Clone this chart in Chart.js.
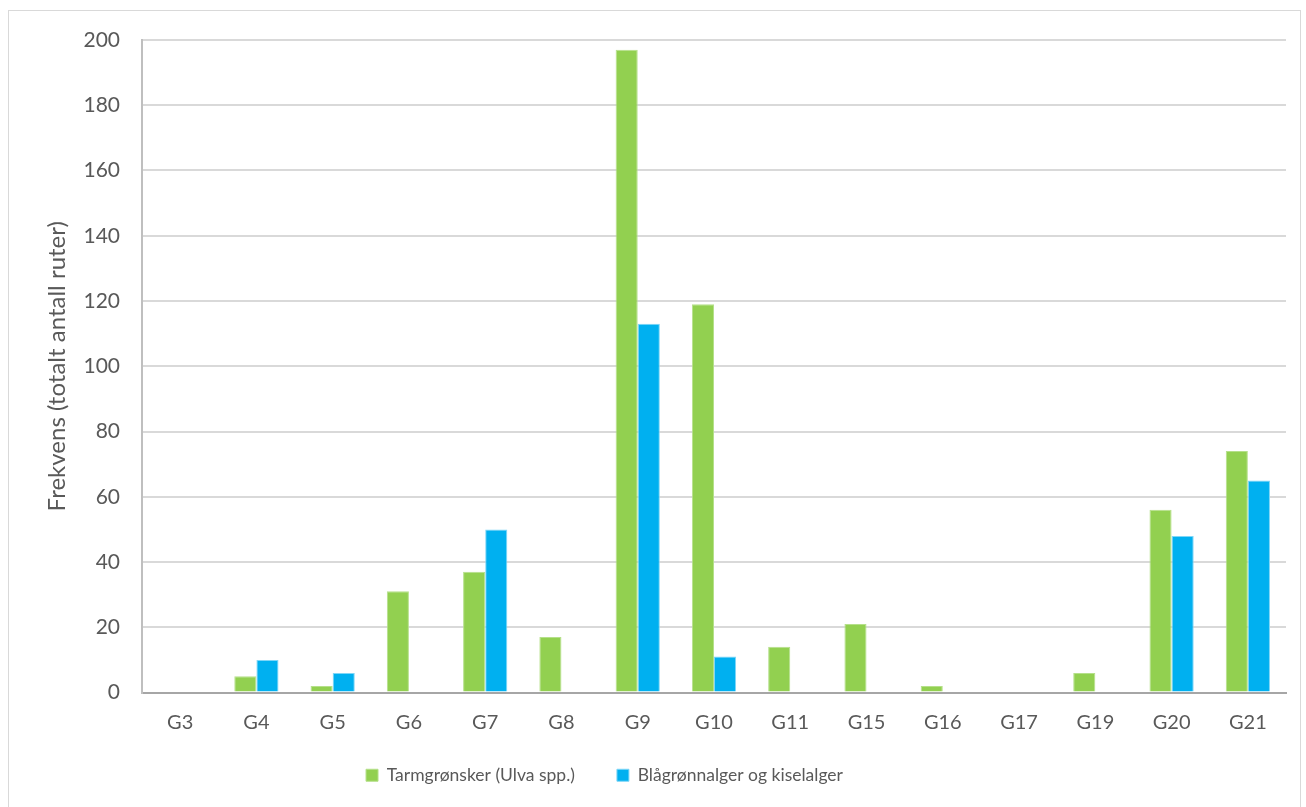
<!DOCTYPE html>
<html>
<head>
<meta charset="utf-8">
<script src="https://cdn.jsdelivr.net/npm/chart.js@4.4.1/dist/chart.umd.min.js"></script>
<style>
  html, body { margin: 0; padding: 0; background: #fff; overflow: hidden; }
  #frame {
    position: absolute; left: 8px; top: 10px; width: 1293px; height: 810px;
    border: 1px solid #d9d9d9; box-sizing: border-box;
  }
  #wrap { position: absolute; left: 0; top: 0; width: 1291px; height: 807px; }
</style>
</head>
<body>
<div id="frame"><div id="wrap"><canvas id="chart"></canvas></div></div>
<script>
const categories = ["G3", "G4", "G5", "G6", "G7", "G8", "G9", "G10", "G11", "G15", "G16", "G17", "G19", "G20", "G21"];
const tarmgronsker = [0, 5, 2, 31, 37, 17, 197, 119, 14, 21, 2, 0, 6, 56, 74];
const blagronnalger = [0, 10, 6, 0, 50, 0, 113, 11, 0, 0, 0, 0, 0, 48, 65];
const yTicks = [0, 20, 40, 60, 80, 100, 120, 140, 160, 180, 200];

const textColor = "#595959";
const fontFamily = "Lato, 'Open Sans', sans-serif";

// Legenden i originalen står litt til venstre og nærmere x-aksen enn Chart.js plasserer den.
const legendShift = {
  id: "legendShift",
  afterInit(chart) {
    const legend = chart.legend;
    const draw = legend.draw.bind(legend);
    legend.draw = function () {
      chart.ctx.save();
      chart.ctx.translate(-58, -20);
      draw();
      chart.ctx.restore();
    };
  }
};

const ctx = document.getElementById("chart").getContext("2d");
new Chart(ctx, {
  type: "bar",
  data: {
    labels: categories,
    datasets: [
      { label: "Tarmgrønsker (Ulva spp.)", data: tarmgronsker, backgroundColor: "#92d050", borderColor: "#b5e08a", borderWidth: 1 },
      { label: "Blågrønnalger og kiselalger", data: blagronnalger, backgroundColor: "#00b0f0", borderColor: "#7fd6f7", borderWidth: 1 }
    ]
  },
  plugins: [legendShift],
  options: {
    responsive: true,
    maintainAspectRatio: false,
    animation: false,
    layout: { padding: { left: 30, right: 14, top: 29, bottom: 4 } },
    datasets: { bar: { categoryPercentage: 0.58, barPercentage: 1 } },
    plugins: {
      legend: {
        position: "bottom",
        labels: { color: textColor, font: { family: fontFamily, size: 17.5 }, boxWidth: 12, boxHeight: 12, padding: 42 }
      },
      tooltip: { enabled: false }
    },
    scales: {
      x: {
        grid: { display: false },
        border: { color: "#a6a6a6", width: 2 },
        ticks: { color: textColor, font: { family: fontFamily, size: 20 }, padding: 10 }
      },
      y: {
        min: 0, max: 200,
        afterBuildTicks: axis => { axis.ticks = yTicks.map(v => ({ value: v })); },
        afterFit: axis => { axis.width = 103; axis.paddingTop = 0; axis.paddingBottom = 0; },
        grid: { color: "#d9d9d9", lineWidth: 2, drawTicks: false },
        border: { color: "#bfbfbf", width: 2 },
        ticks: { color: textColor, font: { family: fontFamily, size: 21 }, padding: 22 },
        title: { display: true, text: "Frekvens (totalt antall ruter)", color: textColor, font: { family: fontFamily, size: 24 }, padding: { top: 4, bottom: 8 } }
      }
    }
  }
});
</script>
</body>
</html>
